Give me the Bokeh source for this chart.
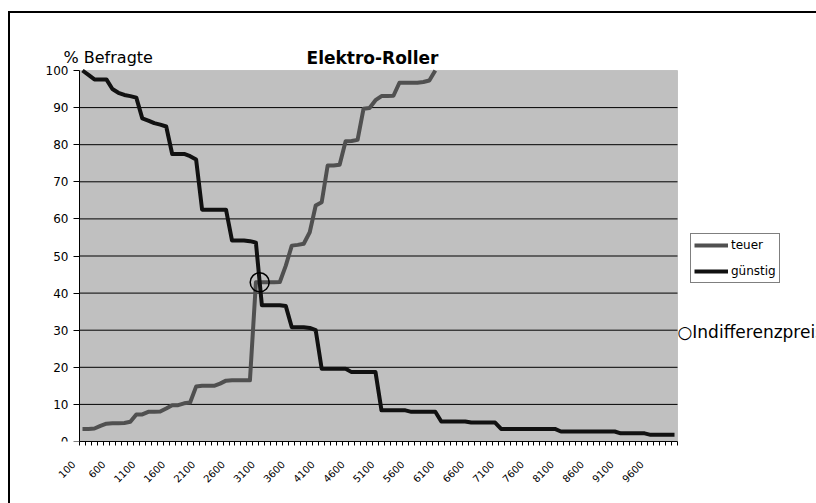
import math
from bokeh.plotting import figure
from bokeh.models import Range1d, FixedTicker, Legend, LegendItem, Label, BoxAnnotation
from bokeh.embed import file_html
from bokeh.resources import INLINE

# ---- data -------------------------------------------------------------
prices = list(range(100, 10001, 100))          # price categories
tick_prices = prices[::5]                      # labelled categories 100, 600, ... 9600
y_ticks = [0, 10, 20, 30, 40, 50, 60, 70, 80, 90, 100]

teuer = [3.4, 3.4, 3.5, 4.2, 4.8, 4.9, 4.9, 5.0, 5.3, 7.3,
         7.3, 8.0, 8.0, 8.1, 8.9, 9.8, 9.8, 10.3, 10.5, 14.8,
         15.0, 15.0, 15.0, 15.6, 16.4, 16.5, 16.5, 16.5, 16.5, 42.9,
         42.9, 42.9, 42.9, 43.0, 47.4, 52.8, 53.0, 53.3, 56.4, 63.6,
         64.5, 74.4, 74.4, 74.6, 80.9, 81.0, 81.3, 89.7, 89.9, 92.0,
         93.1, 93.1, 93.2, 96.7, 96.7, 96.7, 96.7, 96.9, 97.3, 100.0]

guenstig = [100.0, 98.8, 97.6, 97.6, 97.6, 95.0, 94.0, 93.4, 93.1, 92.7,
            87.1, 86.5, 85.8, 85.4, 84.9, 77.5, 77.5, 77.5, 76.9, 76.0,
            62.5, 62.5, 62.5, 62.5, 62.5, 54.2, 54.2, 54.2, 54.0, 53.6,
            36.7, 36.7, 36.7, 36.7, 36.5, 30.8, 30.8, 30.8, 30.6, 30.0,
            19.6, 19.6, 19.6, 19.6, 19.6, 18.7, 18.7, 18.7, 18.7, 18.7,
            8.4, 8.4, 8.4, 8.4, 8.4, 8.0, 8.0, 8.0, 8.0, 8.0,
            5.4, 5.4, 5.4, 5.4, 5.4, 5.1, 5.1, 5.1, 5.1, 5.1,
            3.4, 3.4, 3.4, 3.4, 3.4, 3.4, 3.4, 3.4, 3.4, 3.4,
            2.7, 2.7, 2.7, 2.7, 2.7, 2.7, 2.7, 2.7, 2.7, 2.7,
            2.2, 2.2, 2.2, 2.2, 2.2, 1.8, 1.8, 1.8, 1.8, 1.8]

series_names = ["teuer", "günstig"]
title_text = "Elektro-Roller"
y_title = "% Befragte"
marker_text = "○Indifferenzpreis"

# ---- intersection (Indifferenzpreis) computed from the data ------------
ix, iy = None, None
for i in range(len(teuer) - 1):
    d0 = guenstig[i] - teuer[i]
    d1 = guenstig[i + 1] - teuer[i + 1]
    if d0 > 0 and d1 <= 0:
        f = d0 / (d0 - d1)
        ix = prices[i] + f * (prices[i + 1] - prices[i])
        iy = teuer[i] + f * (teuer[i + 1] - teuer[i])
        break

# ---- layout (page pixels) ----------------------------------------------
FONT = "DejaVu Sans"
FIG_X, FIG_Y = 10, 13          # figure position on the page
W, H = 806, 490
BORDER_L, BORDER_B = 35, 62
frame_left = FIG_X + BORDER_L
frame_right = FIG_X + W
frame_top = FIG_Y
frame_bottom = FIG_Y + H - BORDER_B
PA_L, PA_R, PA_T, PA_B = 79, 677, 70, 441   # grey plot area on the page

half = (prices[1] - prices[0]) / 2
x_lo, x_hi = prices[0] - half, prices[-1] + half
y_lo, y_hi = y_ticks[0], y_ticks[-1]
ppx = (PA_R - PA_L) / (x_hi - x_lo)
ppy = (PA_B - PA_T) / (y_hi - y_lo)
x_start = x_lo - (PA_L - frame_left) / ppx
x_end = x_hi + (frame_right - PA_R) / ppx
y_start = y_lo - (frame_bottom - PA_B) / ppy
y_end = y_hi + (PA_T - frame_top) / ppy


def sx(px):
    return px - frame_left


def sy(py):
    return frame_bottom - py


p = figure(width=W, height=H, title=None,
           x_range=Range1d(x_start, x_end), y_range=Range1d(y_start, y_end),
           output_backend="svg", toolbar_location=None,
           min_border_left=BORDER_L, min_border_right=0,
           min_border_top=0, min_border_bottom=BORDER_B)
p.margin = (FIG_Y, 0, 0, FIG_X)
p.styles = {"outline": "2px solid #000000", "outline-offset": "0px"}

p.background_fill_color = "white"
p.border_fill_color = "white"
p.outline_line_color = None
p.xgrid.visible = False
p.ygrid.visible = False

# grey plot area
p.add_layout(BoxAnnotation(left=x_lo, right=x_hi, bottom=y_lo, top=y_hi,
                           fill_color="#c0c0c0", fill_alpha=1,
                           line_color="#808080", line_width=1,
                           level="underlay"))

# horizontal grid lines inside the plot area
grid_vals = y_ticks[1:-1]
p.segment(x0=[x_lo] * len(grid_vals), x1=[x_hi] * len(grid_vals),
          y0=grid_vals, y1=grid_vals, line_color="#000000", line_width=1)

# x axis: category labels, rotated; Excel draws each rotated label ending
# about 1.5 categories left of its category centre
label_shift = 1.5 * (prices[1] - prices[0])
label_pos = [t - label_shift for t in tick_prices]
boundaries = [c - half for c in prices] + [prices[-1] + half]
p.xaxis.ticker = FixedTicker(ticks=label_pos, minor_ticks=boundaries)
p.xaxis.major_label_overrides = {pos: str(t) for pos, t in zip(label_pos, tick_prices)}
p.xaxis.bounds = (x_lo, x_hi)
p.xaxis.major_tick_in = 0
p.xaxis.major_tick_out = 0
p.xaxis.minor_tick_in = 0
p.xaxis.minor_tick_out = 4
p.xaxis.minor_tick_line_color = "black"
p.xaxis.axis_line_color = "black"
p.xaxis.major_label_orientation = math.pi / 4
p.xaxis.major_label_text_font = FONT
p.xaxis.major_label_text_font_size = "10px"
p.xaxis.major_label_text_color = "black"
p.xaxis.major_label_standoff = 17

# y axis (drawn at the left edge of the grey plot area)
p.yaxis.fixed_location = x_lo
p.yaxis.bounds = (y_lo, y_hi)
p.yaxis.ticker = FixedTicker(ticks=y_ticks)
p.yaxis.major_tick_in = 0
p.yaxis.major_tick_out = 6
p.yaxis.minor_tick_out = 0
p.yaxis.major_tick_line_color = "black"
p.yaxis.axis_line_color = "black"
p.yaxis.major_label_text_font = FONT
p.yaxis.major_label_text_font_size = "12px"
p.yaxis.major_label_text_color = "black"
p.yaxis.major_label_standoff = 5

# lines
r1 = p.line(prices[:len(teuer)], teuer, line_color="#505050", line_width=4,
            line_join="round")
r2 = p.line(prices, guenstig, line_color="#111111", line_width=4,
            line_join="round")

if ix is not None:
    p.scatter([ix], [iy], marker="circle", size=19, fill_color=None,
              line_color="black", line_width=1.5)

legend = Legend(items=[LegendItem(label=series_names[0], renderers=[r1]),
                       LegendItem(label=series_names[1], renderers=[r2])],
                location=(sx(690), sy(283)), orientation="vertical",
                glyph_width=34, glyph_height=16, label_height=16,
                spacing=10, padding=3, margin=0, label_standoff=3,
                border_line_color="black", border_line_width=1,
                background_fill_color="white", background_fill_alpha=1,
                label_text_font=FONT, label_text_font_size="12px",
                label_text_color="black")
p.add_layout(legend)

p.add_layout(Label(x=sx(63), y=sy(57), x_units="screen", y_units="screen",
                   text=y_title, text_font=FONT, text_font_size="16px",
                   text_color="black", text_baseline="alphabetic"))
p.add_layout(Label(x=sx(372), y=sy(57), x_units="screen", y_units="screen",
                   text=title_text, text_font=FONT, text_font_size="17px",
                   text_font_style="bold", text_color="black",
                   text_align="center", text_baseline="alphabetic"))
p.add_layout(Label(x=sx(677), y=sy(331), x_units="screen", y_units="screen",
                   text=marker_text, text_font=FONT, text_font_size="17px",
                   text_color="black", text_baseline="alphabetic"))

open("out.html", "w").write(file_html(p, INLINE))
